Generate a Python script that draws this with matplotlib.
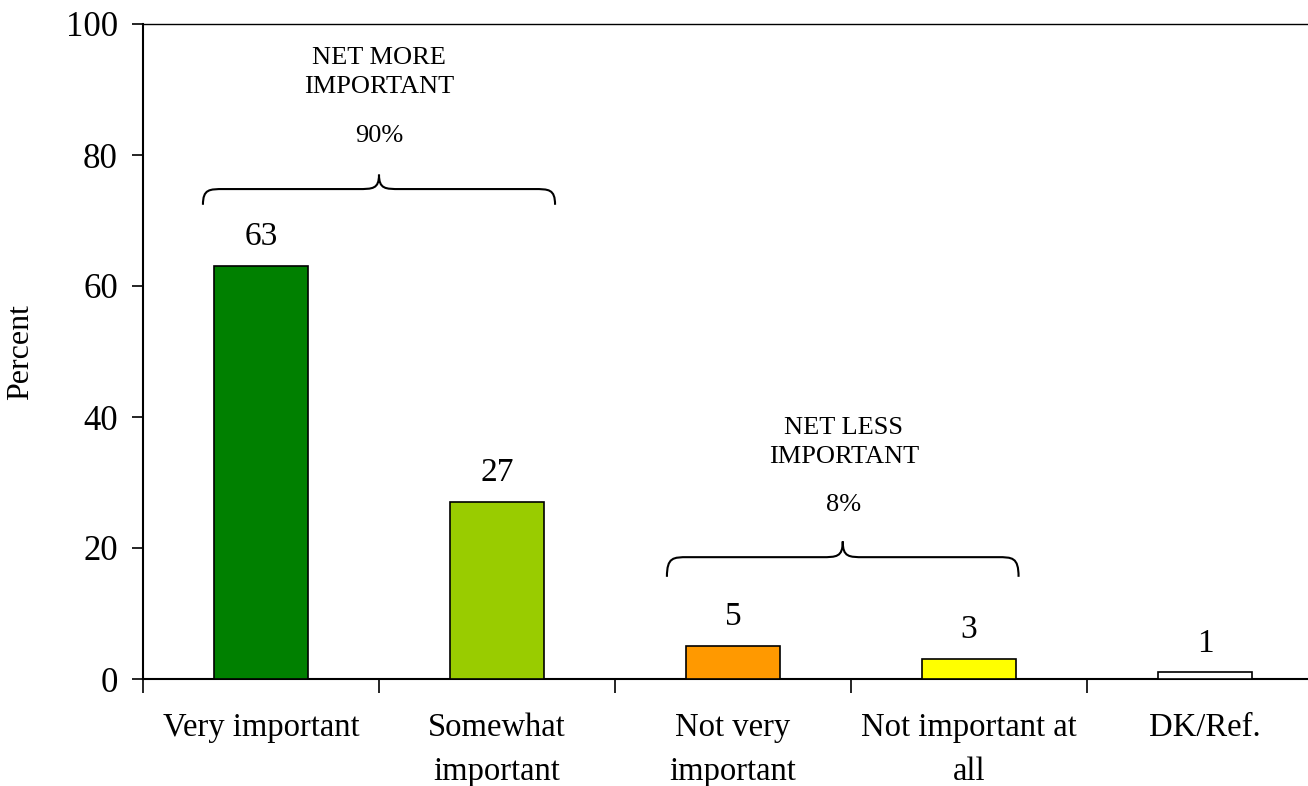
import matplotlib
matplotlib.use("Agg")
import matplotlib.pyplot as plt
from matplotlib.path import Path
from matplotlib.patches import PathPatch
import numpy as np

categories = ["Very important", "Somewhat\nimportant", "Not very\nimportant", "Not important at\nall", "DK/Ref."]
values = [63, 27, 5, 3, 1]
colors = ["#008000", "#99CC00", "#FF9900", "#FFFF00", "#FFFFFF"]
yticks = [0, 20, 40, 60, 80, 100]

plt.rcParams['font.family'] = ['Liberation Serif', 'DejaVu Serif']

fig = plt.figure(figsize=(13.08, 7.86), dpi=100)
ax = fig.add_axes([143/1308, 107/786, (1323-143)/1308, (679-24)/786])

x = np.arange(len(categories))
ax.bar(x, values, width=0.4, color=colors, edgecolor="black", linewidth=1.2, zorder=3)
for xi, v in zip(x, values):
    ax.annotate(str(v), (xi, v), xytext=(0, 10), textcoords="offset points",
                ha="center", va="bottom", fontsize=24)

ax.set_xlim(-0.5, len(categories) - 0.5)
ax.set_ylim(0, 100)
ax.set_yticks(yticks)
ax.tick_params(axis="y", labelsize=25, length=8, width=1.2, direction="out", pad=10)
ax.set_xticks(x)
ax.set_xticklabels(categories, fontsize=23.5, linespacing=1.6)
ax.tick_params(axis="x", which="major", length=0, pad=24)
ax.set_xticks(np.arange(-0.5, len(categories), 1.0), minor=True)
ax.tick_params(axis="x", which="minor", length=10, width=1.2, direction="out")
ax.set_ylabel("Percent", fontsize=23, labelpad=22)
ax.spines["right"].set_visible(False)
ax.spines["top"].set_linewidth(1.0)
for s in ["left", "bottom"]:
    ax.spines[s].set_linewidth(1.5)


def brace(ax, x0, x1, yend, yflat, ytip):
    xm = (x0 + x1) / 2
    dx = (x1 - x0) * 0.06
    verts = [
        (x0, yend),
        (x0, yflat), (x0 + dx * 0.3, yflat), (x0 + dx, yflat),
        (xm - dx, yflat),
        (xm - dx * 0.3, yflat), (xm, yflat), (xm, ytip),
        (xm, yflat), (xm + dx * 0.3, yflat), (xm + dx, yflat),
        (x1 - dx, yflat),
        (x1 - dx * 0.3, yflat), (x1, yflat), (x1, yend),
    ]
    codes = [Path.MOVETO,
             Path.CURVE4, Path.CURVE4, Path.CURVE4,
             Path.LINETO,
             Path.CURVE4, Path.CURVE4, Path.CURVE4,
             Path.CURVE4, Path.CURVE4, Path.CURVE4,
             Path.LINETO,
             Path.CURVE4, Path.CURVE4, Path.CURVE4]
    ax.add_patch(PathPatch(Path(verts, codes), fill=False, lw=1.5, edgecolor="black", clip_on=False))

brace(ax, -0.246, 1.246, 72.4, 74.8, 77.0)
brace(ax, 1.72, 3.21, 15.6, 18.6, 21.0)

ax.text(0.5, 92.6, "NET MORE\nIMPORTANT", ha="center", va="center", fontsize=19, linespacing=1.45)
ax.text(0.5, 82.9, "90%", ha="center", va="center", fontsize=19)
ax.text(2.47, 36.1, "NET LESS\nIMPORTANT", ha="center", va="center", fontsize=19, linespacing=1.45)
ax.text(2.47, 26.6, "8%", ha="center", va="center", fontsize=19)

fig.savefig("out.png", dpi=100)
